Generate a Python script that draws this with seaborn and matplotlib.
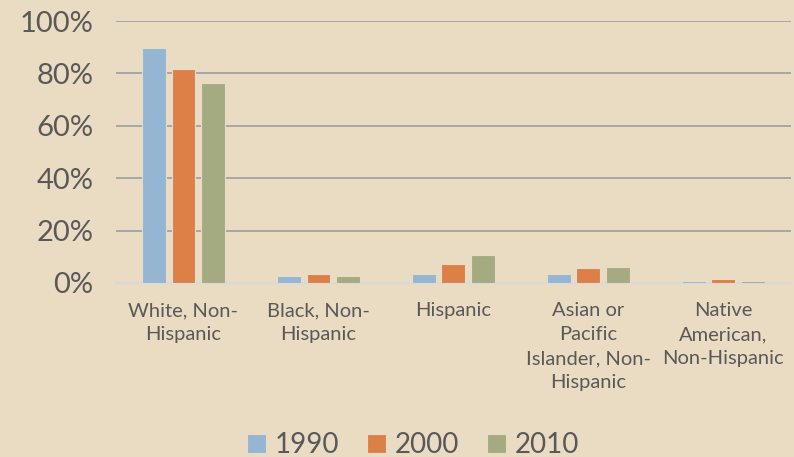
import pandas as pd
import seaborn as sns
import matplotlib.pyplot as plt
from matplotlib.ticker import PercentFormatter

categories = ["White, Non-\nHispanic", "Black, Non-\nHispanic", "Hispanic",
              "Asian or\nPacific\nIslander, Non-\nHispanic",
              "Native\nAmerican,\nNon-Hispanic"]
years = ["1990", "2000", "2010"]
share_1990 = [89.7, 2.5, 3.3, 3.3, 0.6]
share_2000 = [81.7, 3.3, 7.3, 5.7, 1.4]
share_2010 = [76.3, 2.8, 10.8, 6.0, 0.6]

df = pd.DataFrame({
    "group": categories * 3,
    "year": [y for y in years for _ in categories],
    "share": share_1990 + share_2000 + share_2010,
})

bg = "#EADCC2"
txt = "#595959"
palette = ["#94B6D2", "#DD8047", "#A5AB81"]

sns.set_style("white")
plt.rcParams['font.family'] = ['Lato', 'DejaVu Sans']

fig = plt.figure(figsize=(7.94, 4.57), dpi=100, facecolor=bg)
ax = fig.add_axes([0.146, 0.381, 0.85, 0.573], facecolor=bg)

sns.barplot(data=df, x="group", y="share", hue="year", palette=palette,
            saturation=1, width=0.66, gap=0.2, ax=ax, edgecolor="#E6DCC8",
            linewidth=0.8, zorder=3)

ax.set_ylim(0, 100)
ax.set_yticks(range(0, 101, 20))
ax.yaxis.set_major_formatter(PercentFormatter(decimals=0))
ax.grid(axis="y", color="#A6A6A6", linewidth=1.4, zorder=0)
ax.set_xlim(-0.5, 4.5)
for s in ["top", "right", "left"]:
    ax.spines[s].set_visible(False)
ax.spines["bottom"].set_color("#D9D9D9")
ax.spines["bottom"].set_linewidth(1.5)
ax.set_xlabel("")
ax.set_ylabel("")
ax.tick_params(axis="y", labelsize=21, colors=txt, length=0, pad=16)
ax.tick_params(axis="x", labelsize=14.5, colors=txt, length=0, pad=14)
for lab in ax.get_xticklabels():
    lab.set_linespacing(1.5)

ax.legend(loc="lower center", bbox_to_anchor=(0.44, -0.765), ncol=3,
          frameon=False, fontsize=20, labelcolor=txt, handlelength=0.7,
          handleheight=0.7, handletextpad=0.3, columnspacing=1.0)

plt.savefig("out.png", dpi=100, facecolor=bg)
